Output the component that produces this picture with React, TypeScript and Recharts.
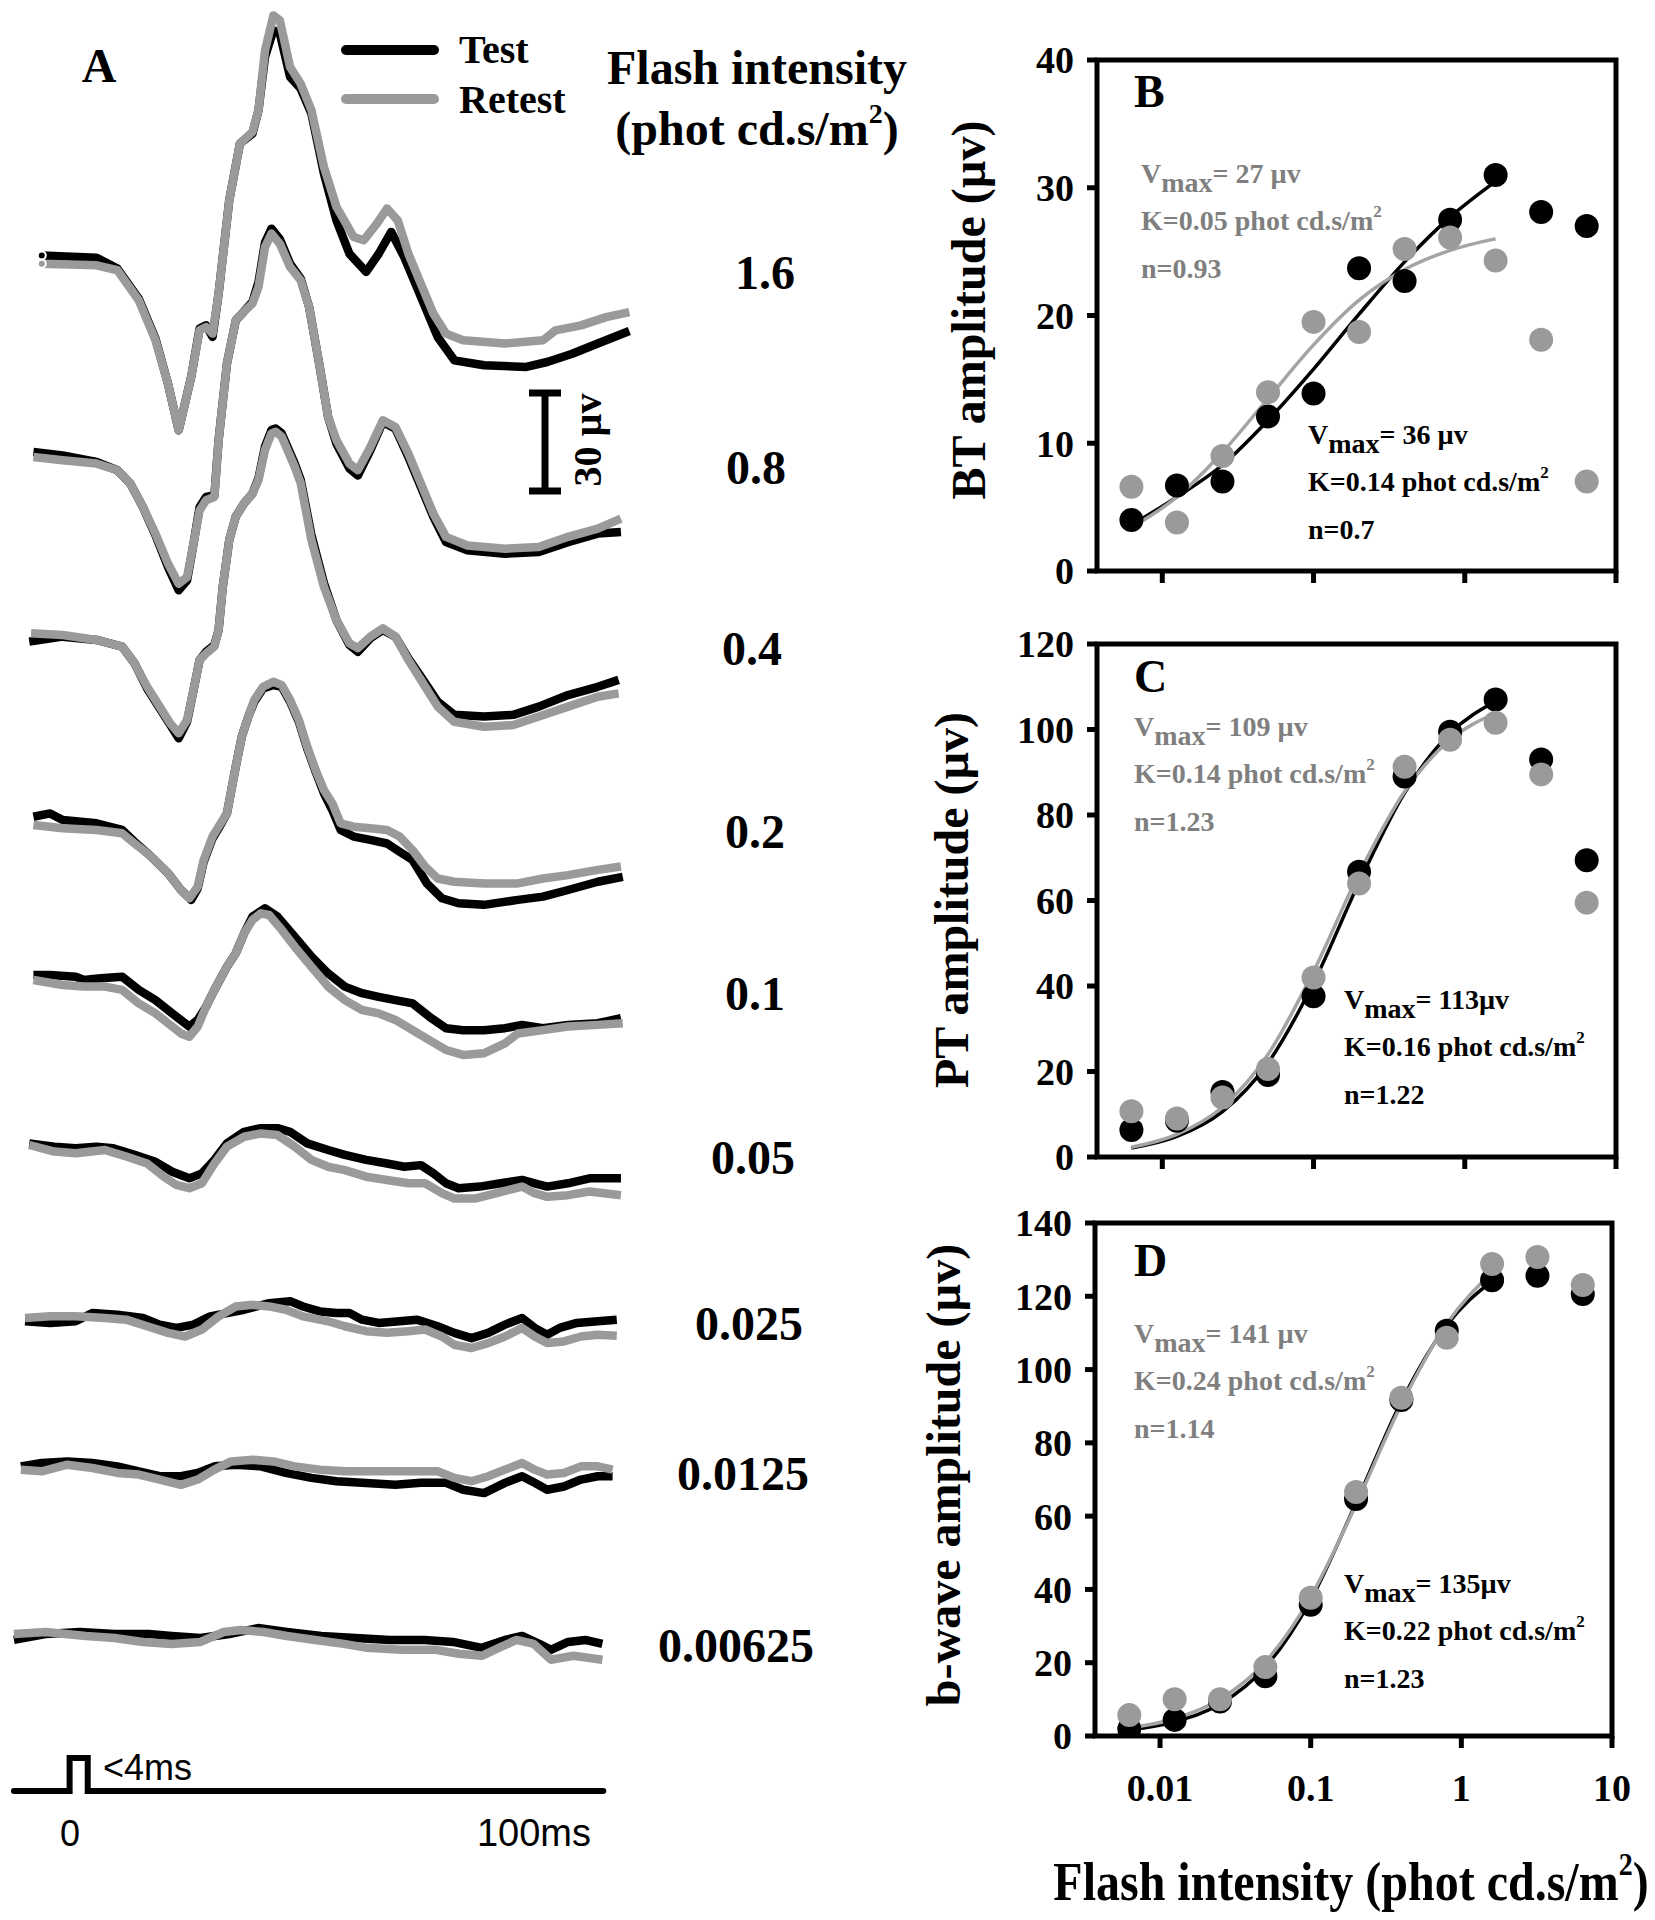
import React from 'react'
import { ComposedChart, LineChart, Line, Scatter, XAxis, YAxis, ReferenceArea } from 'recharts'

// ---------- panel A: ERG traces (time in ms, amplitude in µV re. pre-flash baseline) ----------
type Pt = [number, number]

const flashLabels = ['1.6', '0.8', '0.4', '0.2', '0.1', '0.05', '0.025', '0.0125', '0.00625']

const test16: Pt[] = [[-6, 2], [5.8, 1.3], [10.3, -2], [14.9, -11.1], [18.5, -23.2], [21.2, -36.9], [23.5, -51], [26.2, -34.8], [28, -20.2], [29.4, -19.2], [30.8, -22.7], [32.1, -9.6], [34.4, 18.7], [36.7, 35.9], [39.4, 38.9], [40.7, 46], [42.1, 62.1], [43.9, 70.2], [45.3, 69.2], [47.5, 56.1], [49.8, 52.5], [52.1, 45], [54.8, 26.8], [57.5, 12.6], [60.3, 2.5], [63.9, -3], [66.6, 2.5], [69.3, 9.1], [72.1, 1.5], [75.7, -10.6], [79.3, -22.7], [82.9, -29.8], [89.3, -31.3], [98.4, -31.8], [102.9, -30.3], [108.3, -27.8], [113.8, -24.7], [120.6, -20.9]]
const retest16: Pt[] = [[-6, -0.5], [5.8, -1], [10.3, -2.5], [14.9, -11.6], [18.5, -23.7], [21.2, -36.9], [23.5, -51], [26.2, -34.8], [28, -20.7], [29.4, -19.7], [30.8, -21.7], [32.1, -9.6], [34.4, 18.7], [36.7, 35.9], [39.4, 39.4], [40.7, 46], [42.1, 64.1], [43.9, 74.7], [45.3, 73.2], [47.5, 59.1], [49.8, 54], [52.1, 46], [54.8, 28.8], [57.5, 16.7], [61.2, 7.6], [63.4, 6.6], [66.2, 11.6], [68.4, 16.2], [70.7, 12.6], [73, 2.5], [75.7, -6.6], [78.4, -15.7], [81.1, -21.7], [84.8, -23.7], [93.8, -24.7], [102, -23.7], [104.7, -20.7], [110.2, -19.2], [115.6, -16.7], [120.6, -15.2]]

const test08: Pt[] = [[-7.8, 1.5], [-1.5, 0.5], [5.8, -1.5], [10.3, -4], [13.1, -8.1], [15.8, -15.2], [18.5, -23.7], [21.2, -33.3], [23.5, -40.4], [25.3, -37.4], [26.7, -26.3], [28, -15.2], [29.4, -12.1], [31.2, -11.6], [32.1, 5.1], [33.9, 28.3], [35.8, 41.4], [37.1, 43.4], [39.4, 47], [40.7, 53], [42.1, 65], [43.5, 69.2], [45.3, 66], [47.5, 58.6], [49.8, 54], [51.6, 45.5], [53.9, 27.3], [55.7, 12.1], [57.5, 4], [60.3, -3.5], [62.1, -5.6], [64.8, 2], [67.5, 10.6], [70.2, 8.6], [73, 0], [75.7, -9.1], [78.4, -18.2], [81.1, -25.8], [85.7, -28.3], [93.8, -29.3], [101.1, -28.8], [107.4, -25.8], [113.8, -23.2], [118.8, -22.7]]
const retest08: Pt[] = [[-7.8, 0], [-1.5, -1], [5.8, -2], [10.3, -4], [13.1, -8.1], [15.8, -15.2], [18.5, -23.2], [21.2, -32.3], [23.5, -38.4], [25.3, -36.4], [26.7, -26.3], [28, -16.2], [29.4, -13.1], [31.2, -12.1], [32.1, 5.1], [33.9, 28.3], [35.8, 41.4], [37.1, 43.4], [39.4, 46.5], [40.7, 51.5], [42.1, 63.6], [43.5, 67.7], [45.3, 64.6], [47.5, 57.6], [49.8, 53.5], [51.6, 45.5], [53.9, 27.3], [55.7, 12.1], [57.5, 5.1], [60.3, -2], [62.1, -4], [64.8, 3], [67.5, 11.1], [70.2, 9.1], [73, 1], [75.7, -8.1], [78.4, -17.2], [81.1, -24.2], [85.7, -26.8], [93.8, -27.8], [101.1, -27.3], [107.4, -24.2], [113.8, -21.7], [118.8, -18.7]]

const test04: Pt[] = [[-8.7, -2], [-1.5, -0.5], [5.8, -1.5], [11.3, -3.5], [14, -8.6], [16.7, -16.2], [19.4, -22.2], [21.7, -27.3], [23.5, -31.3], [25.3, -26.3], [26.7, -16.7], [28, -7.6], [29.4, -5.1], [31.2, -3], [32.1, 1.5], [33, 14.6], [34.4, 28.8], [35.8, 35.9], [37.6, 39.9], [39.4, 42.9], [40.7, 47.5], [42.1, 57.1], [43.5, 62.1], [44.4, 62.6], [45.7, 61.1], [48.5, 52], [49.8, 47], [52.1, 30.3], [54.8, 15.7], [57.5, 4.5], [60.3, -3], [62.1, -5.1], [64.8, -1], [67.5, 1.5], [70.2, -0.5], [73, -7.1], [75.7, -12.6], [79.3, -20.2], [82.9, -24.2], [89.3, -24.7], [95.6, -24.2], [101.1, -21.7], [107.4, -18.2], [113.8, -15.7], [118.3, -13.6]]
const retest04: Pt[] = [[-8.3, 0.5], [-1.5, 0], [5.8, -1.5], [11.3, -3.5], [14, -8.6], [16.7, -15.7], [19.4, -21.7], [21.7, -26.8], [23.5, -29.8], [25.3, -25.8], [26.7, -16.7], [28, -7.6], [29.4, -5.6], [31.2, -3.5], [32.1, 1.5], [33, 14.6], [34.4, 28.8], [35.8, 35.9], [37.6, 39.9], [39.4, 42.9], [40.7, 47], [42.1, 56.1], [43.5, 61.1], [44.4, 61.6], [45.7, 60.1], [48.5, 51], [49.8, 46], [52.1, 28.8], [54.8, 14.6], [57.5, 4.5], [60.3, -2.5], [62.1, -4], [64.8, -0.5], [67.5, 2], [70.2, -0.5], [73, -7.6], [75.7, -13.6], [79.3, -21.7], [82.9, -26.3], [89.3, -27.8], [95.6, -27.3], [101.1, -24.7], [107.4, -21.7], [113.8, -18.7], [118.3, -17.7]]

const test02: Pt[] = [[-7.8, 2.5], [-4.2, 3.5], [-1.5, 1.5], [5.8, 0.5], [11.3, -1.5], [14, -5.1], [17.6, -9.6], [21.2, -14.6], [24, -19.7], [26.2, -22.7], [27.6, -19.2], [28.9, -11.1], [30.8, -4], [32.1, -1], [33.9, 3.5], [35.8, 17.7], [37.1, 26.8], [38.5, 32.8], [39.8, 37.4], [41.7, 41.4], [43.9, 42.4], [45.7, 41.9], [47.5, 37.4], [49.4, 31.3], [51.2, 23.2], [53, 16.2], [54.8, 9.6], [56.6, 4.5], [58.4, -1.5], [61.2, -3.5], [64.8, -4.5], [68.4, -5.6], [71.1, -8.1], [73.9, -10.6], [77, -17.7], [80.2, -22.2], [83.8, -23.7], [89.3, -24.2], [96.6, -22.7], [102, -21.7], [107.4, -19.7], [113.8, -17.2], [119.2, -15.7]]
const retest02: Pt[] = [[-7.8, 0], [-1.5, -1], [5.8, -1.5], [11.3, -2.5], [14, -5.6], [17.6, -9.6], [21.2, -14.6], [24, -19.7], [25.8, -22.2], [27.6, -18.7], [28.9, -10.6], [30.8, -3.5], [32.1, -0.5], [33.9, 3.5], [35.8, 17.7], [37.1, 26.8], [38.5, 32.8], [39.8, 37.9], [41.7, 41.9], [43.9, 43.4], [45.7, 42.4], [47.5, 37.9], [49.4, 31.8], [51.2, 23.7], [53, 16.7], [54.8, 10.6], [56.6, 6.6], [58.4, 0.5], [61.2, -0.5], [64.8, -1], [68.4, -1.5], [71.1, -3.5], [73.9, -7.6], [76.6, -12.6], [79.3, -16.2], [82.9, -17.2], [89.3, -17.7], [96.6, -17.7], [102, -16.2], [107.4, -15.2], [113.8, -13.6], [118.8, -12.6]]

const test01: Pt[] = [[-7.8, 1.5], [-4.2, 1.5], [1.3, 1], [3.1, 0], [6.7, 0.5], [11.3, 1], [14.9, -3], [18.5, -6.1], [22.1, -10.1], [25.8, -14.1], [27.6, -12.1], [29.4, -8.1], [31.2, -3], [33.9, 4], [35.8, 8.1], [37.6, 14.1], [39.4, 19.2], [42.1, 21.7], [44.8, 19.2], [48.5, 13.1], [52.1, 7.1], [55.7, 2], [59.3, -2], [63, -4], [66.6, -5.1], [70.2, -6.1], [73.9, -7.1], [77.5, -11.1], [81.1, -14.6], [84.8, -15.2], [89.3, -15.2], [93.8, -14.6], [97.5, -13.6], [102, -14.6], [107.4, -13.6], [113.8, -13.1], [118.8, -11.6]]
const retest01: Pt[] = [[-7.8, 0], [-1.5, -1.5], [3.1, -2], [7.6, -2], [11.3, -3], [14.9, -7.1], [18.5, -10.1], [21.2, -13.1], [24, -16.2], [25.8, -17.2], [27.6, -14.1], [29.4, -8.1], [31.2, -3], [33.9, 4], [35.8, 8.1], [37.6, 14.1], [39.4, 18.2], [41.2, 20.2], [43, 19.7], [45.7, 15.2], [48.5, 10.1], [52.1, 4], [55.7, -2], [59.3, -6.1], [63, -9.1], [66.6, -10.1], [70.2, -12.1], [73.9, -15.2], [77.5, -18.2], [81.1, -21.2], [84.8, -22.7], [89.3, -22.2], [93.8, -19.2], [96.6, -16.2], [102, -15.2], [107.4, -14.1], [113.8, -13.6], [119.2, -13.1]]

const test005: Pt[] = [[-8.7, 0.5], [-3.3, -0.5], [1.3, -1], [5.8, -0.5], [9.4, -1], [14, -3], [18.5, -5.1], [22.1, -8.1], [25.8, -10.1], [28.5, -8.6], [31.2, -4.5], [33.9, 0.5], [37.6, 4], [41.2, 5.1], [44.8, 5.1], [47.5, 4], [51.2, 0.5], [55.7, -1.5], [59.3, -3], [63.9, -4.5], [68.4, -5.6], [72.1, -6.6], [75.7, -6.1], [78.4, -8.6], [81.1, -11.6], [83.8, -13.1], [88.4, -12.6], [92.9, -11.6], [97.5, -10.6], [100.2, -11.6], [102.9, -12.6], [107.4, -11.6], [112, -10.1], [118.8, -10.1]]
const retest005: Pt[] = [[-8.7, 0], [-3.3, -2], [1.3, -2.5], [7.6, -1.5], [12.2, -3.5], [16.7, -5.6], [20.3, -9.6], [23, -12.1], [25.8, -13.1], [28.5, -11.6], [31.2, -5.6], [33.9, -0.5], [37.6, 2.5], [41.2, 3.5], [44.8, 3], [48.5, -0.5], [52.1, -4.5], [55.7, -6.6], [59.3, -7.6], [63.9, -9.6], [68.4, -10.6], [73, -11.6], [76.6, -11.6], [80.2, -14.6], [82.9, -16.2], [87.5, -16.2], [92, -14.6], [97.5, -12.6], [100.2, -14.6], [102.9, -15.7], [107.4, -15.2], [112, -14.1], [118.8, -15.2]]

const test0025: Pt[] = [[-9.6, -1], [-4.2, -1.5], [1.3, -1], [4.9, 1.5], [10.3, 1], [15.8, 0], [19.4, -2], [23, -3], [26.7, -2], [30.3, 0.5], [33.9, 1.5], [37.6, 2.5], [43, 4.5], [47.5, 5.1], [50.3, 3.5], [53.9, 2], [57.5, 1.5], [60.3, 1.5], [63, -0.5], [66.6, -1.5], [71.1, -1], [74.8, -0.5], [79.3, -2.5], [82.9, -4.5], [86.6, -6.1], [90.2, -4.5], [93.8, -2], [97.5, 0], [100.2, -3], [102.9, -5.1], [105.6, -3], [109.3, -1.5], [113.8, -1], [117.9, -0.5]]
const retest0025: Pt[] = [[-9.6, 0], [-4.2, 0.5], [1.3, 0.5], [7.6, 0], [12.2, -0.5], [16.7, -2.5], [21.2, -4.5], [24.9, -5.6], [28.5, -3.5], [32.1, 0.5], [35.8, 3.5], [39.4, 4], [43, 3.5], [46.6, 2.5], [50.3, 0.5], [55.7, -1], [59.3, -2.5], [63.9, -4], [68.4, -4.5], [73, -4], [76.6, -3.5], [80.2, -5.6], [82.9, -8.1], [86.6, -9.1], [90.2, -7.6], [93.8, -5.6], [97.5, -3], [100.2, -5.6], [102.9, -7.6], [106.5, -7.1], [110.2, -5.6], [113.8, -5.1], [117.9, -5.4]]

const test00125: Pt[] = [[-10.5, 0.5], [-6, 1.5], [-0.5, 2], [4.9, 1.5], [10.3, 0.5], [14.9, -1], [19.4, -2.5], [24, -2.5], [27.6, -1.5], [31.2, 0.5], [35.8, 1], [41.2, 0.5], [46.6, -1.5], [52.1, -3], [57.5, -4], [63, -4.5], [70.2, -5.1], [75.7, -4.5], [81.1, -4.5], [84.8, -6.6], [89.3, -7.6], [93.8, -4.5], [97.5, -2.5], [100.2, -4.5], [102.9, -6.6], [106.5, -5.6], [110.2, -3.5], [113.8, -2.5], [117, -2.5]]
const retest00125: Pt[] = [[-10.5, -0.5], [-6, -1], [-0.5, 1], [4.9, 0], [10.3, -1.5], [14.9, -2], [19.4, -3.5], [24, -5.1], [27.6, -3.5], [31.2, -0.5], [34.8, 2], [39.4, 2.5], [43.9, 2], [48.5, 0.5], [53.9, -0.5], [59.3, -1], [66.6, -1], [73.9, -1], [79.3, -1], [82.9, -3], [86.6, -4], [90.2, -2.5], [93.8, -0.5], [97.5, 1.5], [100.2, -0.5], [102.9, -2], [106.5, -1.5], [110.2, 0.5], [113.8, 0.5], [117, -0.5]]

const test000625: Pt[] = [[-12, -1.8], [-5.2, 0], [2.2, 0.6], [9.7, 0], [17.1, 0], [22, -0.6], [28.2, -1.2], [34.4, 0], [40.6, 1.8], [46.8, 0.6], [54.2, -0.6], [61.6, -1.2], [69, -1.8], [76.5, -1.8], [82.6, -2.4], [88.8, -4.2], [93.8, -1.8], [97.5, -0.6], [101.2, -3], [103.7, -4.8], [107.4, -2.4], [111.1, -1.8], [114.8, -3]]
const retest000625: Pt[] = [[-12, 0], [-5.2, 0.6], [3.5, -0.6], [9.7, -1.2], [15.8, -2.4], [22, -3], [28.2, -2.4], [33.2, 0.6], [36.9, 1.2], [41.8, 0.6], [46.8, -0.6], [52.9, -1.8], [59.1, -3], [64.1, -4.2], [71.5, -4.8], [78.9, -4.8], [83.9, -6], [88.8, -6.6], [92.5, -4.2], [96.3, -1.8], [100, -3], [103.7, -7.8], [108.6, -6.6], [114.8, -7.8]]

const testTraces = [test16, test08, test04, test02, test01, test005, test0025, test00125, test000625]
const retestTraces = [retest16, retest08, retest04, retest02, retest01, retest005, retest0025, retest00125, retest000625]

// flash timing: time (ms), on/off
const stimT = [-12, 0, 0, 3.9, 3.9, 115]
const stimV = [0, 0, 1, 1, 0, 0]

// ---------- panels B-D: amplitude vs flash intensity ----------
const intensities = [0.00625, 0.0125, 0.025, 0.05, 0.1, 0.2, 0.4, 0.8, 1.6, 3.2, 6.4]
const fitIntensities = intensities.slice(0, 9)

const btTest = [4.0, 6.7, 7.0, 12.1, 13.9, 23.7, 22.7, 27.5, 31.0, 28.1, 27.0]
const btRetest = [6.6, 3.8, 9.0, 14.0, 19.5, 18.7, 25.2, 26.1, 24.3, 18.1, 7.0]
const btTestFit = [3.6, 5.8, 8.3, 11.8, 15.8, 20.1, 24.2, 27.7, 30.5]
const btRetestFit = [3.4, 5.8, 9.3, 13.5, 17.7, 21.2, 23.6, 25.1, 26.0]

const ptTest = [6.3, 8.5, 15.2, 19.2, 37.6, 66.7, 89.0, 99.5, 107.0, 93.0, 69.4]
const ptRetest = [10.7, 9.0, 13.9, 20.6, 42.0, 64.0, 91.3, 97.6, 101.6, 89.5, 59.5]
const ptTestFit = [2.1, 4.8, 10.6, 22.0, 40.7, 64.2, 85.2, 99.1, 106.6]
const ptRetestFit = [2.3, 5.3, 11.7, 24.0, 43.4, 66.3, 85.5, 97.6, 103.8]

const bwTest = [1.9, 4.4, 9.4, 16.3, 35.8, 64.7, 91.7, 110.6, 124.4, 125.6, 120.6]
const bwRetest = [5.7, 10.0, 10.0, 18.8, 37.7, 66.6, 92.3, 108.7, 128.8, 130.7, 123.1]
const bwTestFit = [1.7, 3.9, 8.7, 18.8, 37.1, 63.6, 91.3, 112.1, 124.2]
const bwRetestFit = [2.2, 4.7, 10.0, 20.2, 38.0, 63.2, 90.5, 112.5, 126.5]

const xTicks = [0.01, 0.1, 1, 10]
const X_MIN = 0.0037
const X_MAX = 10

// layout
const traceBaseY = [262, 457, 635, 825, 980, 1145, 1318, 1468, 1634]
const labelPos = [[765, 289], [756, 484], [752, 665], [755, 848], [755, 1010], [753, 1174], [749, 1340], [743, 1490], [736, 1662]]

const GRAY = '#9a9a9a'
const TEXT_GRAY = '#7f7f7f'
const SERIF = "'Liberation Serif', 'Times New Roman', serif"
const SANS = "'Liberation Sans', Arial, sans-serif"

const toPts = (arr: Pt[]) => arr.map(([t, v]) => ({ t, v }))

function TracePair({ idx }: { idx: number }) {
  return (
    <div style={{ position: 'absolute', left: 0, top: traceBaseY[idx] - 264 }}>
      <LineChart width={659} height={462} margin={{ top: 0, right: 0, bottom: 0, left: 0 }}>
        <XAxis type="number" dataKey="t" domain={[-15, 127]} hide allowDataOverflow />
        <YAxis type="number" domain={[-60, 80]} hide allowDataOverflow />
        <Line data={toPts(testTraces[idx])} dataKey="v" type="linear" stroke="#000" strokeWidth={8.5}
          strokeLinejoin="round" strokeLinecap="butt" dot={false} isAnimationActive={false} />
        <Line data={toPts(retestTraces[idx])} dataKey="v" type="linear" stroke={GRAY} strokeWidth={8.5}
          strokeLinejoin="round" strokeLinecap="butt" dot={false} isAnimationActive={false} />
      </LineChart>
    </div>
  )
}

function Stimulus() {
  const data = stimT.map((t, i) => ({ t, v: stimV[i] }))
  return (
    <div style={{ position: 'absolute', left: 0, top: 1725 }}>
      <LineChart width={659} height={99} data={data} margin={{ top: 0, right: 0, bottom: 0, left: 0 }}>
        <XAxis type="number" dataKey="t" domain={[-15, 127]} hide allowDataOverflow />
        <YAxis type="number" domain={[-1, 2]} hide />
        <Line dataKey="v" type="linear" stroke="#000" strokeWidth={6} strokeLinecap="round" dot={false} isAnimationActive={false} />
      </LineChart>
    </div>
  )
}

interface PanelProps {
  left: number
  top: number
  plotW: number
  plotH: number
  yMax: number
  yTicks: number[]
  test: number[]
  retest: number[]
  testFit: number[]
  retestFit: number[]
  xLabels?: boolean
}

const dotShape = (fill: string) => (p: { cx?: number; cy?: number }) => (
  <circle cx={p.cx} cy={p.cy} r={12} fill={fill} />
)

function IntensityPanel({ left, top, plotW, plotH, yMax, yTicks, test, retest, testFit, retestFit, xLabels }: PanelProps) {
  const xH = xLabels ? 80 : 40
  const testPts = intensities.map((x, i) => ({ x, y: test[i] }))
  const retestPts = intensities.map((x, i) => ({ x, y: retest[i] }))
  const testFitPts = fitIntensities.map((x, i) => ({ x, y: testFit[i] }))
  const retestFitPts = fitIntensities.map((x, i) => ({ x, y: retestFit[i] }))
  return (
    <div style={{ position: 'absolute', left: left - 100, top: top - 30 }}>
      <ComposedChart width={100 + plotW + 30} height={30 + plotH + xH} margin={{ top: 30, right: 30, bottom: 0, left: 0 }}>
        <XAxis type="number" dataKey="x" scale="log" domain={[X_MIN, X_MAX]} ticks={xTicks} allowDataOverflow
          axisLine={false} tickLine={{ stroke: '#000', strokeWidth: 5 }} tickSize={12} tickMargin={26} height={xH}
          tickFormatter={(v: number) => (xLabels ? String(v) : '')}
          tick={{ fontSize: 38, fontWeight: 700, fill: '#000', fontFamily: SERIF }} />
        <YAxis type="number" domain={[0, yMax]} ticks={yTicks} width={100} allowDataOverflow
          axisLine={false} tickLine={{ stroke: '#000', strokeWidth: 5 }} tickSize={10} tickMargin={13}
          tick={{ fontSize: 38, fontWeight: 700, fill: '#000', fontFamily: SERIF }} />
        <ReferenceArea x1={X_MIN} x2={X_MAX} y1={0} y2={yMax} fill="none" fillOpacity={0} stroke="#000" strokeWidth={5} />
        <Scatter data={testPts} dataKey="y" fill="#000" shape={dotShape('#000')} isAnimationActive={false} />
        <Scatter data={retestPts} dataKey="y" fill={GRAY} shape={dotShape(GRAY)} isAnimationActive={false} />
        <Line data={testFitPts} dataKey="y" type="monotone" stroke="#000" strokeWidth={3.5} dot={false} isAnimationActive={false} />
        <Line data={retestFitPts} dataKey="y" type="monotone" stroke="#a4a4a4" strokeWidth={3.5} dot={false} isAnimationActive={false} />
      </ComposedChart>
    </div>
  )
}

function Vmax({ x, y, rest, fill }: { x: number; y: number; rest: string; fill: string }) {
  return (
    <text x={x} y={y} fontSize={28} fill={fill}>
      V<tspan dy={9}>max</tspan><tspan dy={-9}>{rest}</tspan>
    </text>
  )
}

function Kline({ x, y, k, fill }: { x: number; y: number; k: string; fill: string }) {
  return (
    <text x={x} y={y} fontSize={28} fill={fill}>
      {`K=${k} phot cd.s/m`}<tspan dy={-13} fontSize={17}>2</tspan>
    </text>
  )
}

function FitNote({ x, y, vmax, k, n, fill }: { x: number; y: number; vmax: string; k: string; n: string; fill: string }) {
  return (
    <g>
      <Vmax x={x} y={y} rest={vmax} fill={fill} />
      <Kline x={x} y={y + 47} k={k} fill={fill} />
      <text x={x} y={y + 95} fontSize={28} fill={fill}>{`n=${n}`}</text>
    </g>
  )
}

export default function App() {
  return (
    <div style={{ position: 'absolute', left: 0, top: 0, width: 1655, height: 1920, background: '#fff', overflow: 'hidden', fontFamily: SERIF }}>
      {flashLabels.map((_, i) => <TracePair key={i} idx={i} />)}
      <Stimulus />

      <IntensityPanel left={1097} top={60} plotW={519} plotH={511} yMax={40} yTicks={[0, 10, 20, 30, 40]}
        test={btTest} retest={btRetest} testFit={btTestFit} retestFit={btRetestFit} />
      <IntensityPanel left={1097} top={644} plotW={519} plotH={513} yMax={120} yTicks={[0, 20, 40, 60, 80, 100, 120]}
        test={ptTest} retest={ptRetest} testFit={ptTestFit} retestFit={ptRetestFit} />
      <IntensityPanel left={1095} top={1223} plotW={517} plotH={513} yMax={140} yTicks={[0, 20, 40, 60, 80, 100, 120, 140]}
        test={bwTest} retest={bwRetest} testFit={bwTestFit} retestFit={bwRetestFit} xLabels />

      <svg width={1655} height={1920} style={{ position: 'absolute', left: 0, top: 0, pointerEvents: 'none' }}
        fontFamily={SERIF} fontWeight="bold">
        <text x={99} y={82} fontSize={48} textAnchor="middle">A</text>
        <line x1={346} y1={50} x2={434} y2={50} stroke="#000" strokeWidth={10} strokeLinecap="round" />
        <line x1={346} y1={99} x2={434} y2={99} stroke={GRAY} strokeWidth={10} strokeLinecap="round" />
        <text x={459} y={63} fontSize={40}>Test</text>
        <text x={459} y={113} fontSize={40}>Retest</text>

        <text x={757} y={84} fontSize={48} textAnchor="middle">Flash intensity</text>
        <text x={757} y={145} fontSize={48} textAnchor="middle">
          (phot cd.s/m<tspan fontSize={28} dy={-22}>2</tspan><tspan dy={22}>)</tspan>
        </text>
        {flashLabels.map((lab, i) => (
          <text key={lab} x={labelPos[i][0]} y={labelPos[i][1]} fontSize={48} textAnchor="middle">{lab}</text>
        ))}

        <line x1={545} y1={393} x2={545} y2={491} stroke="#000" strokeWidth={7} />
        <line x1={529} y1={393} x2={561} y2={393} stroke="#000" strokeWidth={7} />
        <line x1={529} y1={491} x2={561} y2={491} stroke="#000" strokeWidth={7} />
        <text transform="translate(587,440) rotate(-90)" dy="0.35em" fontSize={40} textAnchor="middle">30 µv</text>

        <g fontFamily={SANS} fontWeight="normal">
          <text x={103} y={1780} fontSize={36}>&lt;4ms</text>
          <text x={70} y={1846} fontSize={36} textAnchor="middle">0</text>
          <text x={534} y={1846} fontSize={38} textAnchor="middle">100ms</text>
        </g>

        <text transform="translate(968,310) rotate(-90)" dy="0.35em" fontSize={48} textAnchor="middle">BT amplitude (µv)</text>
        <text transform="translate(951,900) rotate(-90)" dy="0.35em" fontSize={48} textAnchor="middle">PT amplitude (µv)</text>
        <text transform="translate(943,1475) rotate(-90)" dy="0.35em" fontSize={48} textAnchor="middle">b-wave amplitude (µv)</text>
        <text transform="translate(1351,1900) scale(1,1.15)" fontSize={48} textAnchor="middle">
          Flash intensity (phot cd.s/m<tspan fontSize={28} dy={-22}>2</tspan><tspan dy={22}>)</tspan>
        </text>

        <text x={1134} y={107} fontSize={46}>B</text>
        <text x={1134} y={692} fontSize={46}>C</text>
        <text x={1134} y={1276} fontSize={46}>D</text>

        <FitNote x={1141} y={183} vmax="= 27 µv" k="0.05" n="0.93" fill={TEXT_GRAY} />
        <FitNote x={1308} y={444} vmax="= 36 µv" k="0.14" n="0.7" fill="#000" />
        <FitNote x={1134} y={736} vmax="= 109 µv" k="0.14" n="1.23" fill={TEXT_GRAY} />
        <FitNote x={1344} y={1009} vmax="= 113µv" k="0.16" n="1.22" fill="#000" />
        <FitNote x={1134} y={1343} vmax="= 141 µv" k="0.24" n="1.14" fill={TEXT_GRAY} />
        <FitNote x={1344} y={1593} vmax="= 135µv" k="0.22" n="1.23" fill="#000" />
      </svg>
    </div>
  )
}
